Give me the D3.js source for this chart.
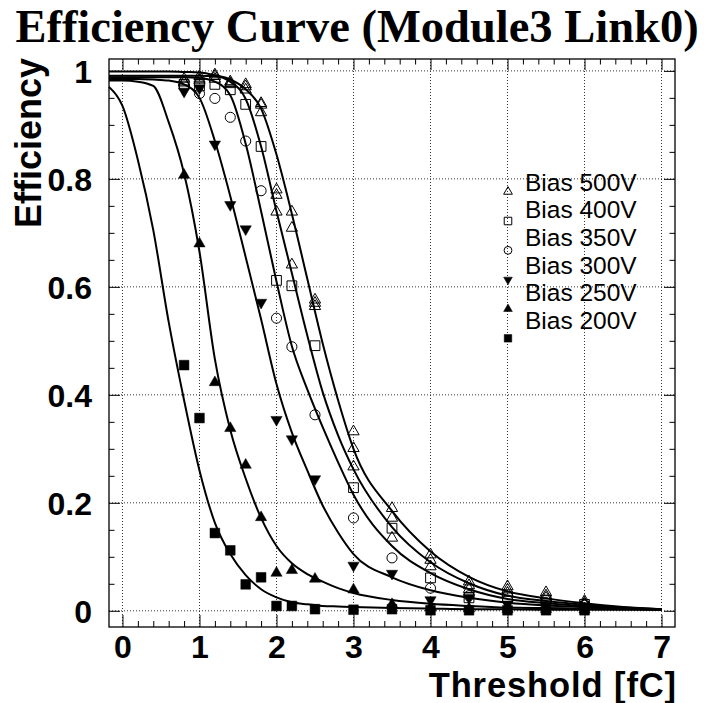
<!DOCTYPE html>
<html>
<head>
<meta charset="utf-8">
<script src="https://cdn.jsdelivr.net/npm/d3@7"></script>
<style>
  body { margin: 0; background: #fff; }
  svg { display: block; }
</style>
</head>
<body>
<div id="chart"></div>
<script>
// thresholds where efficiency was measured (fC)
const thresholds = [0.8, 1.0, 1.2, 1.4, 1.6, 1.8, 2.0, 2.2, 2.5, 3.0, 3.5, 4.0, 4.5, 5.0, 5.5, 6.0]

// measured efficiency per bias voltage
const bias500a = [0.985, 0.99, 0.993, 0.98, 0.975, 0.94, 0.78, 0.739, 0.576, 0.332, 0.19, 0.104, 0.054, 0.045, 0.034, 0.018]
const bias500b = [0.98, 0.985, 0.99, 0.977, 0.971, 0.937, 0.77, 0.709, 0.57, 0.301, 0.172, 0.094, 0.047, 0.039, 0.028, 0.014]
const bias500c = [0.978, 0.982, 0.985, 0.975, 0.965, 0.923, 0.739, 0.641, 0.564, 0.267, 0.135, 0.082, 0.04, 0.033, 0.024, 0.012]
const bias400 = [0.975, 0.972, 0.975, 0.965, 0.938, 0.86, 0.612, 0.602, 0.491, 0.228, 0.153, 0.061, 0.024, 0.026, 0.02, 0.012]
const bias350 = [0.972, 0.958, 0.949, 0.914, 0.87, 0.778, 0.542, 0.489, 0.363, 0.172, 0.098, 0.042, 0.028, 0.02, 0.015, 0.01]
const bias300 = [0.962, 0.968, 0.864, 0.752, 0.707, 0.571, 0.354, 0.318, 0.244, 0.084, 0.069, 0.02, 0.024, 0.012, 0.01, 0.007]
const bias250 = [0.807, 0.68, 0.423, 0.338, 0.27, 0.173, 0.07, 0.075, 0.059, 0.039, 0.012, 0.006, 0.004, 0.003, 0.003, 0.002]
const bias200 = [0.455, 0.357, 0.144, 0.112, 0.049, 0.062, 0.009, 0.009, 0.003, 0.002, 0.003, 0.001, 0.001, 0.001, 0.001, 0.001]

// fitted curves
const fitX = [-0.175, 0, 0.2, 0.4, 0.6, 0.8, 1.0, 1.2, 1.4, 1.6, 1.8, 2.0, 2.2, 2.4, 2.6, 2.8, 3.0, 3.5, 4.0, 4.5, 5.0, 5.5, 6.0, 6.5, 7.0]
const fit500 = [0.999, 0.999, 0.999, 0.999, 0.999, 0.998, 0.997, 0.992, 0.984, 0.966, 0.93, 0.845, 0.735, 0.615, 0.495, 0.39, 0.3, 0.185, 0.11, 0.063, 0.036, 0.023, 0.014, 0.007, 0.003]
const fit400 = [0.991, 0.991, 0.991, 0.991, 0.991, 0.991, 0.991, 0.99, 0.98, 0.948, 0.86, 0.74, 0.625, 0.51, 0.405, 0.325, 0.262, 0.155, 0.09, 0.051, 0.028, 0.018, 0.011, 0.006, 0.003]
const fit350 = [0.988, 0.988, 0.988, 0.988, 0.988, 0.988, 0.987, 0.98, 0.955, 0.865, 0.74, 0.61, 0.49, 0.41, 0.34, 0.275, 0.215, 0.12, 0.07, 0.04, 0.022, 0.014, 0.009, 0.005, 0.002]
const fit300 = [0.985, 0.985, 0.985, 0.984, 0.982, 0.975, 0.95, 0.87, 0.768, 0.655, 0.54, 0.42, 0.33, 0.26, 0.195, 0.145, 0.105, 0.062, 0.038, 0.024, 0.015, 0.01, 0.007, 0.004, 0.002]
const fit250 = [0.982, 0.982, 0.98, 0.972, 0.905, 0.81, 0.665, 0.466, 0.335, 0.245, 0.172, 0.12, 0.088, 0.068, 0.054, 0.042, 0.033, 0.02, 0.013, 0.009, 0.006, 0.005, 0.004, 0.003, 0.002]
const fit200 = [0.97, 0.935, 0.835, 0.705, 0.535, 0.39, 0.26, 0.163, 0.105, 0.066, 0.04, 0.025, 0.016, 0.012, 0.009, 0.008, 0.007, 0.005, 0.004, 0.003, 0.003, 0.002, 0.002, 0.002, 0.002]

const legendLabels = ["Bias 500V", "Bias 400V", "Bias 350V", "Bias 300V", "Bias 250V", "Bias 200V"]
const xTicks = [0, 1, 2, 3, 4, 5, 6, 7]
const yTicks = [0, 0.2, 0.4, 0.6, 0.8, 1]
const yTickLabels = ["0", "0.2", "0.4", "0.6", "0.8", "1"]

const W = 704, H = 703
const frameL = 109, frameR = 675, frameT = 59, frameB = 627

const x = d3.scaleLinear([-0.175, 7.175], [frameL, frameR])
const y = d3.scaleLinear([-0.03, 1.022], [frameB, frameT])

const svg = d3.select("#chart").append("svg")
  .attr("width", W).attr("height", H)
  .attr("viewBox", `0 0 ${W} ${H}`)

const sans = "'Liberation Sans', Arial, Helvetica, sans-serif"

// title
svg.append("text")
  .attr("x", 357).attr("y", 42)
  .attr("text-anchor", "middle")
  .attr("font-family", "'Liberation Serif', 'Times New Roman', serif")
  .attr("font-weight", "bold")
  .attr("font-size", 46.5)
  .text("Efficiency Curve (Module3 Link0)")

// grid
const grid = svg.append("g")
  .attr("stroke", "#333").attr("stroke-width", 1).attr("stroke-dasharray", "1,2")
grid.selectAll("line.gx").data(xTicks).join("line")
  .attr("class", "gx")
  .attr("x1", d => x(d)).attr("x2", d => x(d))
  .attr("y1", frameT).attr("y2", frameB)
grid.selectAll("line.gy").data(yTicks).join("line")
  .attr("class", "gy")
  .attr("y1", d => y(d)).attr("y2", d => y(d))
  .attr("x1", frameL).attr("x2", frameR)

// fit curves
const line = d3.line().x(d => x(d[0])).y(d => y(d[1])).curve(d3.curveMonotoneX)
const fits = [fit500, fit400, fit350, fit300, fit250, fit200]
svg.append("g").selectAll("path").data(fits).join("path")
  .attr("d", f => line(fitX.map((v, i) => [v, f[i]])))
  .attr("fill", "none").attr("stroke", "#000").attr("stroke-width", 2)

// markers
const series = [
  { values: bias500a, sym: d3.symbolTriangle, size: 55, fill: false, rot: 0, leg: 0 },
  { values: bias500b, sym: d3.symbolTriangle, size: 55, fill: false, rot: 0 },
  { values: bias500c, sym: d3.symbolTriangle, size: 55, fill: false, rot: 0 },
  { values: bias400, sym: d3.symbolSquare, size: 95, fill: false, rot: 0, leg: 1 },
  { values: bias350, sym: d3.symbolCircle, size: 80, fill: false, rot: 0, leg: 2 },
  { values: bias300, sym: d3.symbolTriangle, size: 55, fill: true, rot: 180, leg: 3 },
  { values: bias250, sym: d3.symbolTriangle, size: 55, fill: true, rot: 0, leg: 4 },
  { values: bias200, sym: d3.symbolSquare, size: 95, fill: true, rot: 0, leg: 5 }
]

series.forEach(s => {
  svg.append("g").selectAll("path").data(s.values).join("path")
    .attr("d", d3.symbol(s.sym, s.size))
    .attr("transform", (d, i) => `translate(${x(thresholds[i])},${y(d)}) rotate(${s.rot})`)
    .attr("fill", s.fill ? "#000" : "none")
    .attr("stroke", "#000").attr("stroke-width", s.fill ? 0.5 : 1)
})

// frame and ticks
const minorX = d3.range(0, 36).map(i => i * 0.2).filter(v => Math.abs(v - Math.round(v)) > 1e-6)
const minorY = d3.range(0, 21).map(i => i * 0.05).filter(v => Math.abs(v * 5 - Math.round(v * 5)) > 1e-6)

function axisStyle(g) {
  g.select(".domain").remove()
  g.selectAll(".tick line").attr("stroke", "#000").attr("stroke-width", 1)
}

svg.append("g").attr("transform", `translate(0,${frameB})`)
  .call(d3.axisBottom(x).tickValues(xTicks).tickSize(-12).tickPadding(8).tickFormat(d => String(d)))
  .call(axisStyle)
  .call(g => g.selectAll("text").attr("font-family", sans).attr("font-weight", "bold")
    .attr("font-size", 32).attr("fill", "#000"))
svg.append("g").attr("transform", `translate(0,${frameB})`)
  .call(d3.axisBottom(x).tickValues(minorX).tickSize(-6).tickFormat(""))
  .call(axisStyle)
svg.append("g").attr("transform", `translate(0,${frameT})`)
  .call(d3.axisTop(x).tickValues(xTicks).tickSize(-11).tickFormat(""))
  .call(axisStyle)
svg.append("g").attr("transform", `translate(0,${frameT})`)
  .call(d3.axisTop(x).tickValues(minorX).tickSize(-5.5).tickFormat(""))
  .call(axisStyle)

svg.append("g").attr("transform", `translate(${frameL},0)`)
  .call(d3.axisLeft(y).tickValues(yTicks).tickSize(-11).tickPadding(17).tickFormat((d, i) => yTickLabels[i]))
  .call(axisStyle)
  .call(g => g.selectAll("text").attr("font-family", sans).attr("font-weight", "bold")
    .attr("font-size", 32).attr("fill", "#000").attr("dy", "0.36em"))
svg.append("g").attr("transform", `translate(${frameL},0)`)
  .call(d3.axisLeft(y).tickValues(minorY).tickSize(-5.5).tickFormat(""))
  .call(axisStyle)
svg.append("g").attr("transform", `translate(${frameR},0)`)
  .call(d3.axisRight(y).tickValues(yTicks).tickSize(-11).tickFormat(""))
  .call(axisStyle)
svg.append("g").attr("transform", `translate(${frameR},0)`)
  .call(d3.axisRight(y).tickValues(minorY).tickSize(-5.5).tickFormat(""))
  .call(axisStyle)

svg.append("rect")
  .attr("x", frameL).attr("y", frameT)
  .attr("width", frameR - frameL).attr("height", frameB - frameT)
  .attr("fill", "none").attr("stroke", "#000").attr("stroke-width", 1.3)

// axis titles
svg.append("text")
  .attr("transform", "translate(41,58) rotate(-90)")
  .attr("text-anchor", "end")
  .attr("font-family", sans).attr("font-weight", "bold").attr("font-size", 36)
  .text("Efficiency")
svg.append("text")
  .attr("x", 677).attr("y", 697)
  .attr("text-anchor", "end")
  .attr("font-family", sans).attr("font-weight", "bold").attr("font-size", 34.5)
  .attr("letter-spacing", 0.9)
  .text("Threshold [fC]")

// legend
const legMarkY = d3.scaleLinear([0, 5], [191.7, 338.3])
const legTextY = d3.scaleLinear([0, 5], [190.7, 329])
const legend = svg.append("g")
series.filter(s => s.leg !== undefined).forEach(s => {
  legend.append("path")
    .attr("d", d3.symbol(s.sym, s.size * 0.6))
    .attr("transform", `translate(508,${legMarkY(s.leg)}) rotate(${s.rot})`)
    .attr("fill", s.fill ? "#000" : "none")
    .attr("stroke", "#000").attr("stroke-width", s.fill ? 0.5 : 1)
  legend.append("text")
    .attr("x", 525).attr("y", legTextY(s.leg))
    .attr("font-family", sans).attr("font-size", 24.5)
    .text(legendLabels[s.leg])
})
</script>
</body>
</html>
